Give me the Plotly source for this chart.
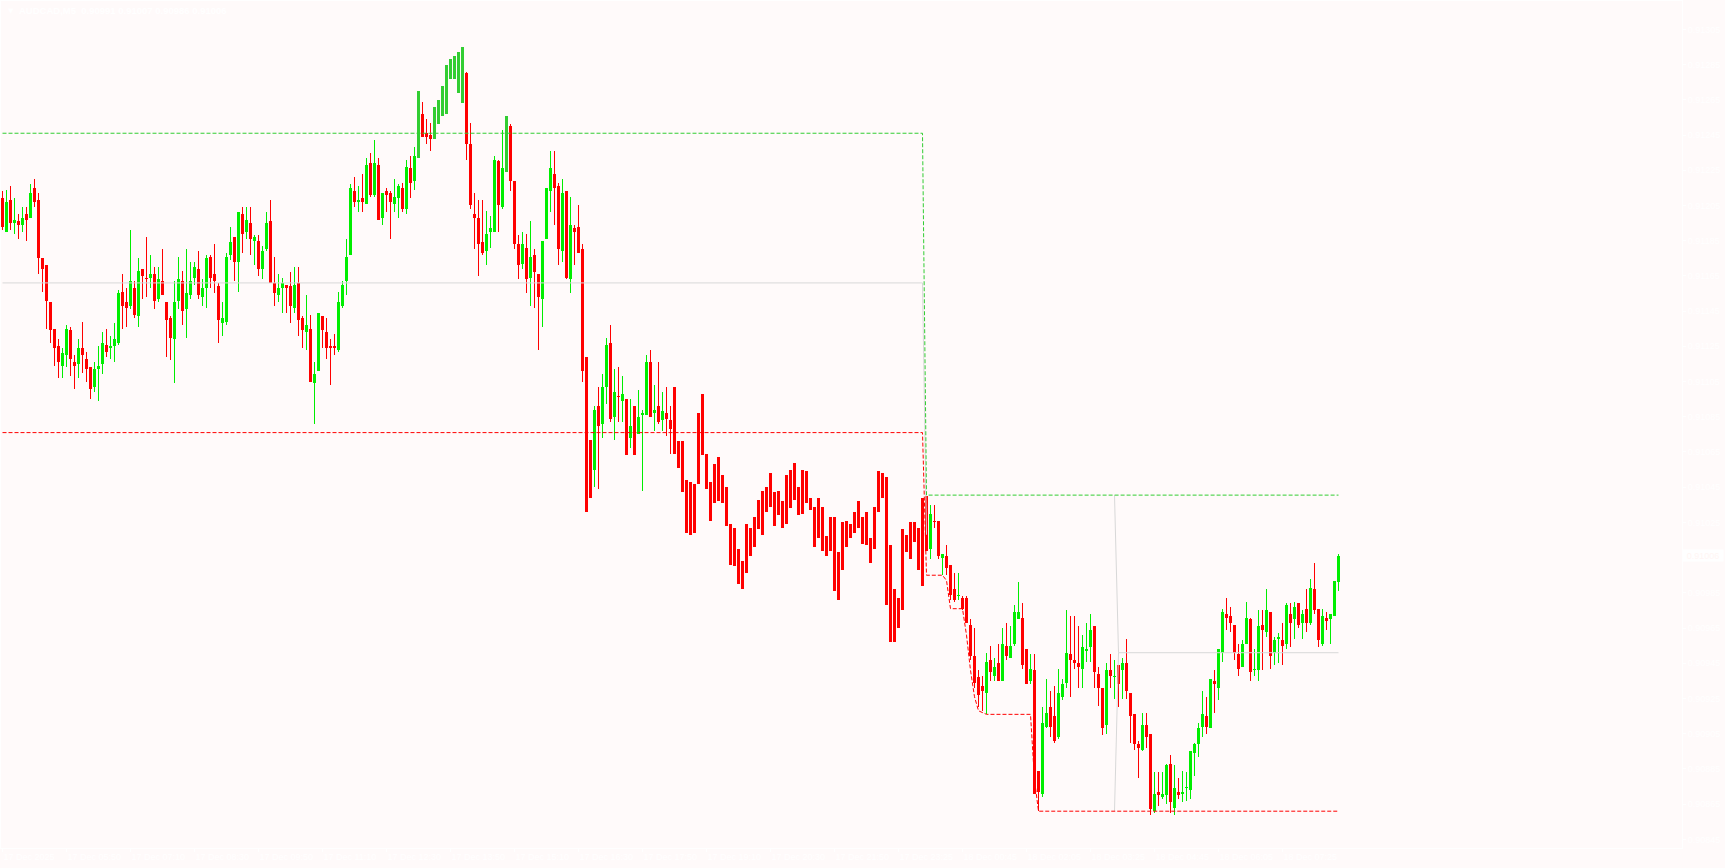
import plotly.graph_objects as go

# ---------------- data (AUDCAD, M5) ----------------
opens = [
 0.91209,0.91190,0.91208,0.91195,0.91196,0.91194,0.91200,0.91198,0.91215,0.91208,
 0.91175,0.91171,0.91150,0.91135,0.91125,0.91114,0.91120,0.91134,0.91116,0.91115,
 0.91124,0.91118,0.91113,0.91102,0.91112,0.91115,0.91126,0.91124,0.91125,0.91127,
 0.91156,0.91150,0.91148,0.91158,0.91142,0.91169,0.91164,0.91164,0.91166,0.91152,
 0.91162,0.91150,0.91141,0.91129,0.91151,0.91162,0.91146,0.91154,0.91164,0.91169,
 0.91153,0.91158,0.91176,0.91166,0.91159,0.91138,0.91139,0.91177,0.91187,0.91173,
 0.91200,0.91190,0.91195,0.91185,0.91185,0.91169,0.91180,0.91196,0.91161,0.91154,
 0.91158,0.91160,0.91159,0.91147,0.91161,0.91141,0.91133,0.91135,0.91104,0.91111,
 0.91142,0.91133,0.91125,0.91125,0.91123,0.91148,0.91162,0.91177,0.91213,0.91207,
 0.91209,0.91206,0.91229,0.91211,0.91228,0.91198,0.91213,0.91212,0.91206,0.91209,
 0.91215,0.91203,0.91226,0.91219,0.91232,0.91257,0.91246,0.91245,0.91243,0.91251,
 0.91256,0.91257,0.91277,0.91277,0.91269,0.91263,0.91280,0.91240,0.91200,0.91198,
 0.91184,0.91179,0.91190,0.91190,0.91230,0.91204,0.91224,0.91250,0.91219,0.91183,
 0.91172,0.91181,0.91164,0.91177,0.91166,0.91152,0.91186,0.91213,0.91223,0.91216,
 0.91179,0.91213,0.91163,0.91192,0.91193,0.91180,0.91119,0.91072,0.91055,0.91091,
 0.91081,0.91102,0.91127,0.91085,0.91097,0.91094,0.91095,0.91073,0.91091,0.91075,
 0.91086,0.91086,0.91116,0.91087,0.91091,0.91083,0.91087,0.91083,0.91102,0.91071,
 0.91071,0.91049,0.91048,0.91047,0.91087,0.91098,0.91064,0.91048,0.91058,0.91062,
 0.91052,0.91045,0.91024,0.91022,0.91010,0.91003,0.91024,0.91022,0.91028,0.91038,
 0.91043,0.91045,0.91053,0.91042,0.91043,0.91037,0.91052,0.91055,0.91059,0.91045,
 0.91055,0.91054,0.91039,0.91034,0.91039,0.91034,0.91017,0.91028,0.91028,0.91008,
 0.91025,0.91026,0.91024,0.91031,0.91037,0.91028,0.91031,0.91016,0.91034,0.91054,
 0.91053,0.91051,0.91012,0.90987,0.90982,0.91021,0.91018,0.91025,0.91025,0.91022,
 0.91039,0.91040,0.91010,0.91026,0.91026,0.91005,0.91006,0.91001,0.90987,0.90983,
 0.90982,0.90982,0.90967,0.90949,0.90937,0.90932,0.90928,0.90947,0.90938,0.90945,
 0.90935,0.90955,0.90948,0.90956,0.90970,0.90971,0.90953,0.90935,0.90941,0.90884,
 0.90871,0.90909,0.90920,0.90915,0.90903,0.90926,0.90934,0.90950,0.90947,0.90945,
 0.90942,0.90952,0.90954,0.90966,0.90939,0.90931,0.90910,0.90941,0.90937,0.90944,
 0.90941,0.90945,0.90928,0.90916,0.90899,0.90896,0.90910,0.90905,0.90861,0.90872,
 0.90869,0.90870,0.90888,0.90863,0.90872,0.90871,0.90874,0.90873,0.90894,0.90899,
 0.90909,0.90915,0.90908,0.90935,0.90931,0.90951,0.90973,0.90972,0.90967,0.90950,
 0.90943,0.90956,0.90970,0.90941,0.90941,0.90967,0.90963,0.90974,0.90951,0.90959,
 0.90958,0.90956,0.90973,0.90970,0.90979,0.90968,0.90976,0.90968,0.90987,0.90976,
 0.90956,0.90971,0.90970,0.90972,0.90991]

highs = [
 0.91213,0.91214,0.91216,0.91209,0.91200,0.91204,0.91204,0.91217,0.91220,0.91212,
 0.91175,0.91171,0.91150,0.91135,0.91129,0.91124,0.91137,0.91136,0.91120,0.91129,
 0.91139,0.91122,0.91113,0.91116,0.91125,0.91133,0.91135,0.91131,0.91138,0.91157,
 0.91166,0.91158,0.91191,0.91162,0.91175,0.91169,0.91187,0.91177,0.91170,0.91170,
 0.91180,0.91150,0.91142,0.91162,0.91176,0.91168,0.91180,0.91173,0.91173,0.91179,
 0.91163,0.91177,0.91177,0.91183,0.91161,0.91150,0.91178,0.91193,0.91187,0.91201,
 0.91204,0.91204,0.91204,0.91188,0.91188,0.91182,0.91201,0.91208,0.91176,0.91166,
 0.91164,0.91160,0.91167,0.91170,0.91170,0.91142,0.91154,0.91143,0.91116,0.91144,
 0.91142,0.91141,0.91129,0.91132,0.91156,0.91162,0.91186,0.91217,0.91221,0.91216,
 0.91223,0.91232,0.91235,0.91242,0.91232,0.91212,0.91215,0.91213,0.91220,0.91217,
 0.91218,0.91231,0.91233,0.91238,0.91270,0.91264,0.91254,0.91252,0.91261,0.91265,
 0.91273,0.91285,0.91288,0.91290,0.91292,0.91295,0.91281,0.91252,0.91212,0.91208,
 0.91208,0.91202,0.91199,0.91233,0.91231,0.91248,0.91256,0.91251,0.91219,0.91188,
 0.91190,0.91189,0.91196,0.91180,0.91166,0.91185,0.91215,0.91236,0.91236,0.91218,
 0.91220,0.91213,0.91210,0.91194,0.91205,0.91183,0.91119,0.91072,0.91091,0.91102,
 0.91109,0.91130,0.91137,0.91112,0.91113,0.91108,0.91095,0.91095,0.91091,0.91100,
 0.91089,0.91120,0.91123,0.91103,0.91116,0.91099,0.91102,0.91091,0.91102,0.91071,
 0.91071,0.91049,0.91048,0.91047,0.91087,0.91098,0.91064,0.91048,0.91058,0.91062,
 0.91052,0.91045,0.91024,0.91022,0.91010,0.91003,0.91024,0.91022,0.91028,0.91038,
 0.91043,0.91045,0.91053,0.91042,0.91043,0.91037,0.91052,0.91055,0.91059,0.91045,
 0.91055,0.91054,0.91039,0.91034,0.91039,0.91034,0.91017,0.91028,0.91028,0.91008,
 0.91025,0.91026,0.91024,0.91031,0.91037,0.91028,0.91031,0.91016,0.91034,0.91054,
 0.91053,0.91051,0.91012,0.90987,0.90982,0.91021,0.91018,0.91025,0.91025,0.91022,
 0.91039,0.91040,0.91035,0.91035,0.91026,0.91007,0.91012,0.91001,0.90996,0.90996,
 0.90983,0.90983,0.90970,0.90965,0.90941,0.90938,0.90951,0.90955,0.90948,0.90956,
 0.90965,0.90968,0.90966,0.90978,0.90991,0.90979,0.90953,0.90950,0.90950,0.90884,
 0.90920,0.90936,0.90929,0.90932,0.90942,0.90936,0.90975,0.90972,0.90972,0.90966,
 0.90961,0.90968,0.90973,0.90966,0.90943,0.90931,0.90945,0.90950,0.90947,0.90944,
 0.90948,0.90959,0.90928,0.90916,0.90901,0.90917,0.90917,0.90905,0.90883,0.90883,
 0.90883,0.90888,0.90893,0.90887,0.90880,0.90884,0.90883,0.90895,0.90900,0.90911,
 0.90929,0.90926,0.90936,0.90941,0.90953,0.90976,0.90982,0.90977,0.90967,0.90956,
 0.90958,0.90980,0.90971,0.90953,0.90975,0.90975,0.90987,0.90974,0.90960,0.90962,
 0.90968,0.90979,0.90979,0.90980,0.90979,0.90975,0.90987,0.90993,0.91002,0.90976,
 0.90976,0.90974,0.90973,0.90992,0.91007]

lows = [
 0.91191,0.91190,0.91191,0.91189,0.91186,0.91190,0.91185,0.91198,0.91204,0.91166,
 0.91156,0.91135,0.91127,0.91114,0.91107,0.91107,0.91113,0.91108,0.91101,0.91107,
 0.91110,0.91105,0.91095,0.91099,0.91094,0.91109,0.91119,0.91118,0.91116,0.91126,
 0.91135,0.91136,0.91146,0.91141,0.91136,0.91152,0.91153,0.91158,0.91146,0.91150,
 0.91154,0.91119,0.91117,0.91104,0.91146,0.91137,0.91130,0.91152,0.91160,0.91152,
 0.91148,0.91147,0.91158,0.91155,0.91127,0.91131,0.91137,0.91174,0.91162,0.91156,
 0.91178,0.91186,0.91177,0.91171,0.91165,0.91163,0.91179,0.91161,0.91148,0.91150,
 0.91144,0.91144,0.91138,0.91144,0.91131,0.91124,0.91123,0.91105,0.91081,0.91111,
 0.91124,0.91118,0.91103,0.91120,0.91122,0.91147,0.91154,0.91177,0.91204,0.91201,
 0.91201,0.91206,0.91210,0.91210,0.91197,0.91194,0.91201,0.91186,0.91201,0.91198,
 0.91201,0.91200,0.91209,0.91214,0.91232,0.91244,0.91240,0.91236,0.91243,0.91251,
 0.91256,0.91257,0.91277,0.91277,0.91269,0.91263,0.91231,0.91203,0.91180,0.91165,
 0.91177,0.91171,0.91181,0.91190,0.91190,0.91203,0.91224,0.91213,0.91180,0.91163,
 0.91169,0.91155,0.91148,0.91147,0.91123,0.91136,0.91186,0.91201,0.91194,0.91171,
 0.91173,0.91163,0.91155,0.91171,0.91178,0.91105,0.91031,0.91039,0.91045,0.91044,
 0.91073,0.91092,0.91082,0.91072,0.91082,0.91082,0.91063,0.91067,0.91063,0.91075,
 0.91043,0.91086,0.91085,0.91077,0.91081,0.91077,0.91074,0.91064,0.91064,0.91056,
 0.91042,0.91019,0.91018,0.91019,0.91047,0.91063,0.91044,0.91026,0.91036,0.91037,
 0.91036,0.91023,0.91001,0.91000,0.90990,0.90987,0.90996,0.91006,0.91011,0.91021,
 0.91018,0.91031,0.91034,0.91023,0.91029,0.91022,0.91024,0.91033,0.91038,0.91029,
 0.91030,0.91036,0.91032,0.91011,0.91016,0.91009,0.91006,0.91009,0.90986,0.90981,
 0.90998,0.91011,0.91016,0.91019,0.91022,0.91013,0.91012,0.91002,0.91010,0.91031,
 0.91039,0.90978,0.90957,0.90957,0.90965,0.90975,0.91008,0.91004,0.91014,0.90998,
 0.90989,0.91009,0.91004,0.91022,0.91004,0.90995,0.90995,0.90981,0.90980,0.90981,
 0.90975,0.90968,0.90947,0.90931,0.90920,0.90918,0.90916,0.90935,0.90935,0.90935,
 0.90935,0.90947,0.90948,0.90955,0.90970,0.90942,0.90933,0.90933,0.90871,0.90861,
 0.90869,0.90908,0.90903,0.90900,0.90902,0.90924,0.90931,0.90926,0.90942,0.90931,
 0.90931,0.90946,0.90946,0.90931,0.90921,0.90904,0.90905,0.90931,0.90925,0.90920,
 0.90925,0.90925,0.90900,0.90896,0.90880,0.90895,0.90897,0.90859,0.90860,0.90864,
 0.90868,0.90865,0.90860,0.90859,0.90868,0.90866,0.90867,0.90868,0.90881,0.90892,
 0.90903,0.90905,0.90908,0.90917,0.90924,0.90946,0.90964,0.90963,0.90947,0.90938,
 0.90943,0.90956,0.90935,0.90938,0.90935,0.90941,0.90960,0.90942,0.90944,0.90945,
 0.90944,0.90953,0.90954,0.90959,0.90965,0.90959,0.90963,0.90967,0.90973,0.90954,
 0.90955,0.90964,0.90956,0.90972,0.90986]

closes = [
 0.91193,0.91207,0.91195,0.91197,0.91194,0.91198,0.91197,0.91212,0.91207,0.91175,
 0.91169,0.91151,0.91134,0.91124,0.91116,0.91121,0.91135,0.91118,0.91114,0.91124,
 0.91120,0.91112,0.91101,0.91112,0.91114,0.91127,0.91122,0.91125,0.91129,0.91155,
 0.91148,0.91147,0.91162,0.91143,0.91168,0.91165,0.91163,0.91166,0.91151,0.91163,
 0.91154,0.91140,0.91130,0.91150,0.91163,0.91145,0.91155,0.91162,0.91170,0.91154,
 0.91158,0.91175,0.91164,0.91162,0.91140,0.91141,0.91176,0.91184,0.91173,0.91201,
 0.91189,0.91197,0.91186,0.91187,0.91169,0.91179,0.91195,0.91161,0.91155,0.91158,
 0.91161,0.91158,0.91148,0.91160,0.91140,0.91134,0.91137,0.91105,0.91109,0.91144,
 0.91134,0.91124,0.91124,0.91124,0.91150,0.91160,0.91176,0.91215,0.91207,0.91208,
 0.91207,0.91228,0.91211,0.91229,0.91197,0.91212,0.91211,0.91207,0.91210,0.91216,
 0.91203,0.91227,0.91218,0.91233,0.91270,0.91244,0.91244,0.91243,0.91261,0.91265,
 0.91273,0.91285,0.91288,0.91290,0.91292,0.91295,0.91240,0.91205,0.91198,0.91183,
 0.91178,0.91189,0.91192,0.91231,0.91205,0.91226,0.91256,0.91219,0.91183,0.91171,
 0.91183,0.91163,0.91176,0.91167,0.91153,0.91185,0.91215,0.91226,0.91215,0.91180,
 0.91212,0.91164,0.91194,0.91190,0.91178,0.91111,0.91031,0.91039,0.91089,0.91080,
 0.91102,0.91126,0.91084,0.91099,0.91096,0.91098,0.91063,0.91080,0.91063,0.91085,
 0.91087,0.91116,0.91085,0.91089,0.91082,0.91088,0.91084,0.91078,0.91064,0.91056,
 0.91042,0.91019,0.91018,0.91019,0.91047,0.91063,0.91044,0.91026,0.91036,0.91037,
 0.91036,0.91023,0.91001,0.91000,0.90990,0.90987,0.90996,0.91006,0.91011,0.91021,
 0.91018,0.91031,0.91034,0.91023,0.91029,0.91022,0.91024,0.91033,0.91038,0.91029,
 0.91030,0.91036,0.91032,0.91011,0.91016,0.91009,0.91006,0.91009,0.90986,0.90981,
 0.90998,0.91011,0.91016,0.91019,0.91022,0.91013,0.91012,0.91002,0.91010,0.91031,
 0.91039,0.90978,0.90957,0.90957,0.90965,0.90975,0.91008,0.91004,0.91014,0.90998,
 0.90989,0.91009,0.91030,0.91025,0.91006,0.91007,0.90999,0.90984,0.90981,0.90984,
 0.90976,0.90968,0.90949,0.90934,0.90927,0.90929,0.90946,0.90940,0.90943,0.90935,
 0.90956,0.90949,0.90955,0.90974,0.90974,0.90944,0.90933,0.90942,0.90871,0.90872,
 0.90911,0.90917,0.90909,0.90901,0.90928,0.90933,0.90951,0.90947,0.90945,0.90943,
 0.90954,0.90953,0.90964,0.90940,0.90931,0.90908,0.90941,0.90938,0.90938,0.90933,
 0.90945,0.90929,0.90915,0.90899,0.90897,0.90910,0.90903,0.90862,0.90871,0.90870,
 0.90871,0.90887,0.90866,0.90874,0.90870,0.90872,0.90875,0.90895,0.90899,0.90908,
 0.90916,0.90909,0.90936,0.90933,0.90953,0.90974,0.90971,0.90968,0.90951,0.90942,
 0.90956,0.90971,0.90940,0.90942,0.90966,0.90964,0.90975,0.90949,0.90958,0.90960,
 0.90955,0.90978,0.90968,0.90977,0.90967,0.90973,0.90968,0.90988,0.90975,0.90958,
 0.90972,0.90969,0.90973,0.90992,0.91006]

# bars drawn in the darker green of the breakout
highlight_bars = [104, 108, 109, 110, 111, 112, 113, 114, 115, 126]

# channel lines (bar index, price)
upper_x = [0, 230, 231, 334]
upper_y = [0.91246, 0.91246, 0.910405, 0.910405]
lower_x = [0, 230, 231, 235, 236, 237, 240, 241, 242, 243, 244, 245, 246, 257, 258, 259, 334]
lower_y = [0.91076, 0.91076, 0.90995, 0.90995, 0.90992, 0.90976, 0.90976, 0.90961, 0.90941,
           0.90926, 0.90918, 0.90917, 0.90916, 0.90916, 0.90879, 0.90861, 0.90861]
mid_x = [0, 230, 231, None, 278, 279, None, 278, 279, 334]
mid_y = [0.91161, 0.91161, 0.91018, None, 0.910405, 0.90951, None, 0.90861, 0.90951, 0.90951]

# axis labels
time_label_bars = [0, 16, 32, 48, 64, 80, 96, 112, 128, 144, 160, 176, 192, 208, 224,
                   240, 256, 272, 288, 304, 320]
time_labels = ["17 Dec 2025", "17 Dec 05:50", "17 Dec 07:10", "17 Dec 08:30", "17 Dec 09:50",
               "17 Dec 11:10", "17 Dec 12:30", "17 Dec 13:50", "17 Dec 15:10", "17 Dec 16:30",
               "17 Dec 17:50", "17 Dec 19:10", "17 Dec 20:30", "17 Dec 21:50", "17 Dec 23:25",
               "18 Dec 00:45", "18 Dec 02:05", "18 Dec 03:25", "18 Dec 04:45", "18 Dec 06:05",
               "18 Dec 07:25"]
price_labels = ["0.90845", "0.90865", "0.90885", "0.90905", "0.90925", "0.90945", "0.90965",
                "0.90985", "0.91005", "0.91025", "0.91045", "0.91065", "0.91085", "0.91105",
                "0.91125", "0.91145", "0.91165", "0.91185", "0.91205", "0.91225", "0.91245",
                "0.91265", "0.91285", "0.91305"]
symbol = "AUDCAD,M5"
last_price = "0.91006"

# ---------------- styling ----------------
BG = "#FFFAFA"
BULL = "#00EE00"
BEAR = "#FF0000"
DARK = "#32CD32"
WHITE = "#FFFFFF"
FONT = "Liberation Sans"

idx = list(range(len(opens)))
colors = []
for i in idx:
    if i in highlight_bars:
        colors.append(DARK)
    elif closes[i] >= opens[i]:
        colors.append(BULL)
    else:
        colors.append(BEAR)

one_px = 0.0000057
wick_len = [h - l for h, l in zip(highs, lows)]
body_base = [min(o, c) for o, c in zip(opens, closes)]
body_len = [max(abs(o - c), one_px) for o, c in zip(opens, closes)]

fig = go.Figure()
fig.add_trace(go.Bar(x=idx, y=wick_len, base=lows, width=0.25,
                     marker=dict(color=colors, line=dict(width=0)), hoverinfo="skip"))
fig.add_trace(go.Bar(x=idx, y=body_len, base=body_base, width=0.75,
                     marker=dict(color=colors, line=dict(width=0)), hoverinfo="skip"))

fig.add_trace(go.Scatter(x=mid_x, y=mid_y, mode="lines", connectgaps=False,
                         line=dict(color="#D8D8D8", width=1), hoverinfo="skip"))
fig.add_trace(go.Scatter(x=upper_x, y=upper_y, mode="lines",
                         line=dict(color="#32CD32", width=1, dash="4px,2px"), hoverinfo="skip"))
fig.add_trace(go.Scatter(x=lower_x, y=lower_y, mode="lines",
                         line=dict(color="#FF0000", width=1, dash="4px,2px"), hoverinfo="skip"))

price_vals = [float(p) for p in price_labels]

fig.update_layout(
    width=1725, height=868,
    margin=dict(l=1, r=43, t=1, b=20, pad=0, autoexpand=False),
    paper_bgcolor=BG, plot_bgcolor=BG,
    barmode="overlay", bargap=0,
    showlegend=False,
    font=dict(family=FONT, size=9, color=WHITE),
    xaxis=dict(range=[-0.375, 419.875], tickmode="array", tickvals=time_label_bars,
               ticktext=time_labels, ticks="outside", ticklen=3, tickcolor=WHITE,
               ticklabelposition="outside right", tickfont=dict(family=FONT, size=9, color=WHITE),
               showline=True, linecolor=WHITE, linewidth=1, mirror=True, automargin=False,
               showgrid=False, zeroline=False, fixedrange=True),
    yaxis=dict(range=[0.908401, 0.913211], side="right", tickmode="array",
               tickvals=price_vals, ticktext=price_labels, ticks="outside", ticklen=3,
               tickcolor=WHITE, tickfont=dict(family=FONT, size=9, color=WHITE),
               showline=True, linecolor=WHITE, linewidth=1, mirror=True, automargin=False,
               showgrid=False, zeroline=False, fixedrange=True),
)

fig.add_annotation(xref="paper", yref="paper", x=(6 - 1) / 1681, y=1, yshift=-4,
                   xanchor="left", yanchor="top", showarrow=False,
                   text="▼", font=dict(family="DejaVu Sans", size=7, color=WHITE))
fig.add_annotation(xref="paper", yref="paper", x=(17 - 1) / 1681, y=1, yshift=-2,
                   xanchor="left", yanchor="top", showarrow=False,
                   text="<b>" + symbol + "  " + "0.90991 0.91007 0.90986 " + last_price + "</b>",
                   font=dict(family=FONT, size=9.5, color=WHITE))
fig.add_annotation(xref="paper", yref="y", x=1, y=float(last_price),
                   xanchor="left", yanchor="middle", showarrow=False,
                   text=last_price, bgcolor=WHITE, width=40, height=11, borderpad=0,
                   font=dict(family=FONT, size=9, color="#FFF6F4"))

fig.write_html("out.html",
               config={"displayModeBar": False, "staticPlot": True},
               post_script="document.body.style.margin='0px';document.body.style.overflow='hidden';")
